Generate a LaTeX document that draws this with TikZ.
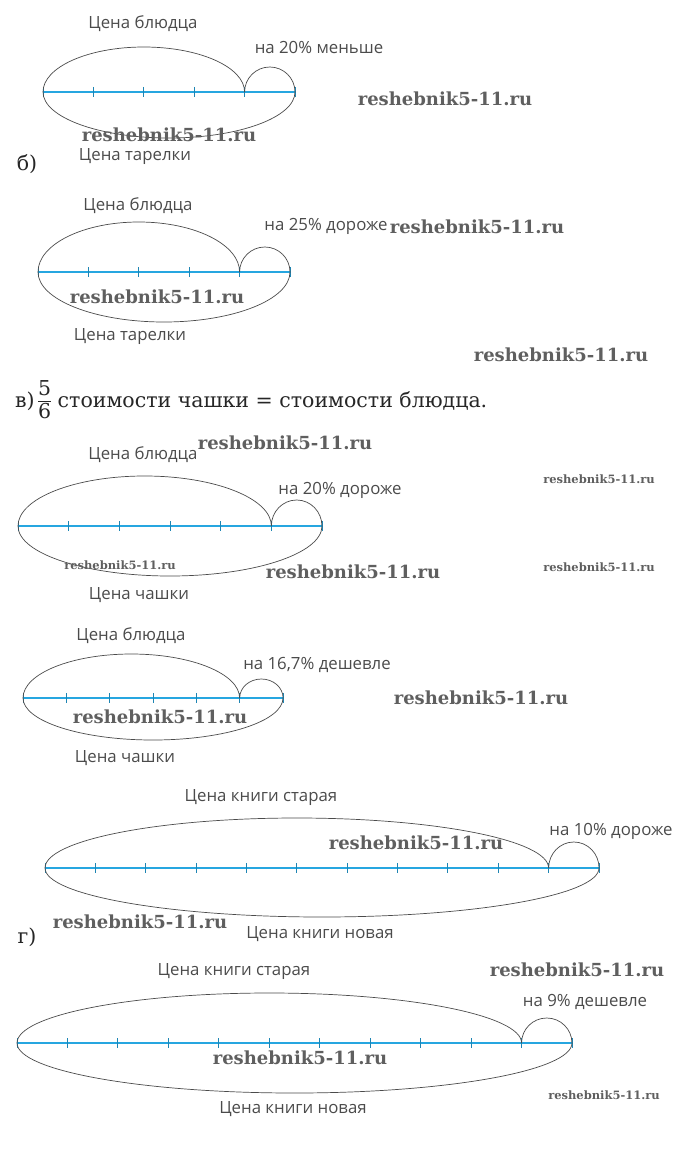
\documentclass[tikz,border=0pt]{standalone}
\usepackage{fontspec}
\setmainfont{DejaVu Serif}
\newfontfamily\labelfont{Open Sans}
\newfontfamily\wmfont{DejaVu Serif}
\usepackage{tikz}
\usetikzlibrary{calc}

\definecolor{axisblue}{RGB}{38,166,224}
\definecolor{inkgray}{RGB}{75,75,75}
\definecolor{wmgray}{RGB}{95,95,95}

\tikzset{
  axisline/.style={axisblue, line width=1.6pt},
  tickmark/.style={axisblue!80!black, line width=0.9pt},
  arcline/.style={inkgray, line width=0.7pt},
  lbl/.style={inkgray, inner sep=0pt, font=\labelfont\fontsize{16.8}{19}\selectfont},
  letter/.style={black!85, inner sep=0pt, font=\fontsize{20.5}{24}\selectfont},
  wmark/.style={wmgray, inner sep=0pt, font=\wmfont\bfseries\fontsize{18}{20}\selectfont},
  wmsmall/.style={wmgray, inner sep=0pt, font=\wmfont\bfseries\fontsize{11.5}{13}\selectfont}
}

\begin{document}
\begin{tikzpicture}[x=1pt, y=-1pt]
\useasboundingbox (0,0) rectangle (698,1169);

% first picture
\coordinate (p1l) at (43,92);
\coordinate (p1r) at (295,92);
\coordinate (p1c) at ($(p1l)!4/5!(p1r)$);
\draw[axisline] (p1l) -- (p1r);
\foreach \i in {0,...,5} \draw[tickmark] ($(p1l)!\i/5!(p1r)$) +(0,-5) -- +(0,5);
\draw[arcline] (p1l) arc[start angle=180, end angle=360, x radius=100.8, y radius=45];
\draw[arcline] (p1c) arc[start angle=180, end angle=360, x radius=25.2, y radius=25];
\draw[arcline] (p1l) arc[start angle=180, end angle=0, x radius=126, y radius=46];
\node (p1top) at (143,24) [lbl] {Цена блюдца};
\node (p1note) at (319,47) [lbl] {на 20\% меньше};
\node (p1bot) at (135,157) [lbl] {Цена тарелки};
\node (w1) at (169,135) [wmark] {reshebnik5-11.ru};
\node (w2) at (445,99) [wmark] {reshebnik5-11.ru};

% б)
\node (lb) at (27,164) [letter] {б)};
\coordinate (p2l) at (38,272);
\coordinate (p2r) at (290,272);
\coordinate (p2c) at ($(p2l)!4/5!(p2r)$);
\draw[axisline] (p2l) -- (p2r);
\foreach \i in {0,...,5} \draw[tickmark] ($(p2l)!\i/5!(p2r)$) +(0,-5) -- +(0,5);
\draw[arcline] (p2l) arc[start angle=180, end angle=360, x radius=100.8, y radius=50];
\draw[arcline] (p2c) arc[start angle=180, end angle=360, x radius=25.2, y radius=25];
\draw[arcline] (p2l) arc[start angle=180, end angle=0, x radius=126, y radius=50];
\node (p2top) at (138,206) [lbl] {Цена блюдца};
\node (p2note) at (326,226) [lbl] {на 25\% дороже};
\node (p2bot) at (130,337) [lbl] {Цена тарелки};
\node (w3) at (157,297) [wmark] {reshebnik5-11.ru};
\node (w4) at (477,227) [wmark] {reshebnik5-11.ru};
\node (w5) at (561,355) [wmark] {reshebnik5-11.ru};

% в)
\node (lv) at (15,402) [letter, anchor=west] {в)\,\begin{tabular}[c]{@{}c@{}}5\\[-2pt]\hline\rule{0pt}{17pt}6\end{tabular} стоимости чашки = стоимости блюдца.};
\coordinate (p3l) at (18,526);
\coordinate (p3r) at (322,526);
\coordinate (p3c) at ($(p3l)!5/6!(p3r)$);
\draw[axisline] (p3l) -- (p3r);
\foreach \i in {0,...,6} \draw[tickmark] ($(p3l)!\i/6!(p3r)$) +(0,-5) -- +(0,5);
\draw[arcline] (p3l) arc[start angle=180, end angle=360, x radius=126.7, y radius=50];
\draw[arcline] (p3c) arc[start angle=180, end angle=360, x radius=25.3, y radius=26];
\draw[arcline] (p3l) arc[start angle=180, end angle=0, x radius=152, y radius=50];
\node (p3top) at (143,455) [lbl] {Цена блюдца};
\node (p3note) at (340,490) [lbl] {на 20\% дороже};
\node (p3bot) at (139,595) [lbl] {Цена чашки};
\node (w6) at (285,443) [wmark] {reshebnik5-11.ru};
\node (w7) at (120,565) [wmsmall] {reshebnik5-11.ru};
\node (w8) at (353,572) [wmark] {reshebnik5-11.ru};
\node (w9) at (599,479) [wmsmall] {reshebnik5-11.ru};
\node (w10) at (599,567) [wmsmall] {reshebnik5-11.ru};

\coordinate (p4l) at (23,698);
\coordinate (p4r) at (283,698);
\coordinate (p4c) at ($(p4l)!5/6!(p4r)$);
\draw[axisline] (p4l) -- (p4r);
\foreach \i in {0,...,6} \draw[tickmark] ($(p4l)!\i/6!(p4r)$) +(0,-5) -- +(0,5);
\draw[arcline] (p4l) arc[start angle=180, end angle=360, x radius=108.3, y radius=44];
\draw[arcline] (p4c) arc[start angle=180, end angle=360, x radius=21.7, y radius=19];
\draw[arcline] (p4l) arc[start angle=180, end angle=0, x radius=130, y radius=42];
\node (p4top) at (131,636) [lbl] {Цена блюдца};
\node (p4note) at (317,665) [lbl] {на 16,7\% дешевле};
\node (p4bot) at (125,758) [lbl] {Цена чашки};
\node (w11) at (160,717) [wmark] {reshebnik5-11.ru};
\node (w12) at (481,698) [wmark] {reshebnik5-11.ru};

% г)
\coordinate (p5l) at (45,868);
\coordinate (p5r) at (599,868);
\coordinate (p5c) at ($(p5l)!10/11!(p5r)$);
\draw[axisline] (p5l) -- (p5r);
\foreach \i in {0,...,11} \draw[tickmark] ($(p5l)!\i/11!(p5r)$) +(0,-5) -- +(0,5);
\draw[arcline] (p5l) arc[start angle=180, end angle=360, x radius=251.8, y radius=50];
\draw[arcline] (p5c) arc[start angle=180, end angle=360, x radius=25.2, y radius=26];
\draw[arcline] (p5l) arc[start angle=180, end angle=0, x radius=277, y radius=49];
\node (p5top) at (261,798) [lbl] {Цена книги старая};
\node (p5note) at (611,831) [lbl] {на 10\% дороже};
\node (p5bot) at (320,934) [lbl] {Цена книги новая};
\node (w13) at (416,843) [wmark] {reshebnik5-11.ru};
\node (w14) at (140,922) [wmark] {reshebnik5-11.ru};
\node (lg) at (27,937) [letter] {г)};

\coordinate (p6l) at (17,1043);
\coordinate (p6r) at (572,1043);
\coordinate (p6c) at ($(p6l)!10/11!(p6r)$);
\draw[axisline] (p6l) -- (p6r);
\foreach \i in {0,...,11} \draw[tickmark] ($(p6l)!\i/11!(p6r)$) +(0,-5) -- +(0,5);
\draw[arcline] (p6l) arc[start angle=180, end angle=360, x radius=252.3, y radius=50];
\draw[arcline] (p6c) arc[start angle=180, end angle=360, x radius=25.2, y radius=25];
\draw[arcline] (p6l) arc[start angle=180, end angle=0, x radius=277.5, y radius=50];
\node (p6top) at (234,972) [lbl] {Цена книги старая};
\node (p6note) at (585,1002) [lbl] {на 9\% дешевле};
\node (p6bot) at (293,1109) [lbl] {Цена книги новая};
\node (w15) at (577,970) [wmark] {reshebnik5-11.ru};
\node (w16) at (300,1058) [wmark] {reshebnik5-11.ru};
\node (w17) at (604,1095) [wmsmall] {reshebnik5-11.ru};
\end{tikzpicture}
\end{document}
